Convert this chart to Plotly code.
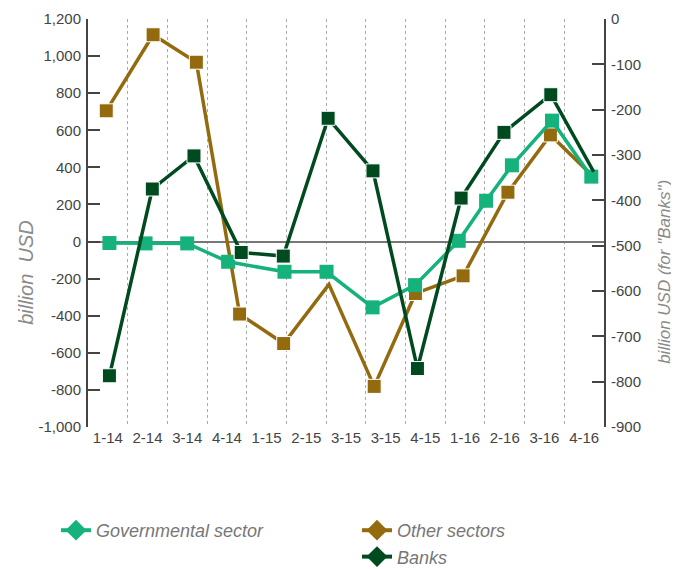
import plotly.graph_objects as go

# Category labels (as printed on the chart, including the repeated "3-15")
quarters = ["1-14", "2-14", "3-14", "4-14", "1-15", "2-15", "3-15",
            "3-15", "4-15", "1-16", "2-16", "3-16", "4-16"]

# Governmental sector (left axis, billion USD); positions in quarter-index units
gov_pos = [0.04, 0.95, 2.0, 3.03, 4.45, 5.51, 6.67, 7.74, 8.84, 9.53, 10.18, 11.19, 12.18]
gov_val = [-8, -10, -10, -109, -163, -163, -355, -235, 4, 220, 411, 652, 350]

# Other sectors (left axis)
other_pos = [-0.04, 1.14, 2.23, 3.32, 4.43, 5.57, 6.71, 7.75, 8.95, 10.08, 11.15, 12.18]
other_val = [705, 1115, 967, -391, -550, -231, -781, -280, -185, 266, 575, 360]
other_marked = [1, 1, 1, 1, 1, 0, 1, 1, 1, 1, 1, 0]

# Banks (right axis, billion USD)
banks_pos = [0.04, 1.12, 2.17, 3.36, 4.42, 5.55, 6.68, 7.80, 8.90, 9.98, 11.16, 12.24]
banks_val = [-787, -375, -302, -515, -523, -219, -335, -771, -395, -250, -167, -337]
banks_marked = [1, 1, 1, 1, 1, 1, 1, 1, 1, 1, 1, 0]

left_ticks = list(range(-1000, 1201, 200))
right_ticks = list(range(-900, 1, 100))

C_GOV = "#15b27b"
C_OTHER = "#936b0e"
C_BANKS = "#004a20"
FONT = "Liberation Sans Narrow, Arial Narrow, Liberation Sans, sans-serif"
MS = 14

fig = go.Figure()

fig.add_trace(go.Scatter(
    x=other_pos, y=other_val, mode="lines+markers", showlegend=False,
    line=dict(color=C_OTHER, width=3.5),
    marker=dict(symbol="square", color=C_OTHER, opacity=1,
                size=[MS * m for m in other_marked]),
))
fig.add_trace(go.Scatter(
    x=banks_pos, y=banks_val, yaxis="y2", mode="lines+markers", showlegend=False,
    line=dict(color=C_BANKS, width=3.5),
    marker=dict(symbol="square", color=C_BANKS, opacity=1,
                size=[MS * m for m in banks_marked]),
))
fig.add_trace(go.Scatter(
    x=gov_pos, y=gov_val, mode="lines+markers", showlegend=False,
    line=dict(color=C_GOV, width=3.5),
    marker=dict(symbol="square", color=C_GOV, size=MS, opacity=1),
))

# Legend entries (diamond symbols as in the original legend)
fig.add_trace(go.Scatter(x=[None], y=[None], mode="lines+markers", name="Governmental sector",
                         line=dict(color=C_GOV, width=4),
                         marker=dict(symbol="diamond", size=16, color=C_GOV), legend="legend"))
fig.add_trace(go.Scatter(x=[None], y=[None], mode="lines+markers", name="Other sectors",
                         line=dict(color=C_OTHER, width=4),
                         marker=dict(symbol="diamond", size=16, color=C_OTHER), legend="legend2"))
fig.add_trace(go.Scatter(x=[None], y=[None], mode="lines+markers", name="Banks",
                         line=dict(color=C_BANKS, width=4),
                         marker=dict(symbol="diamond", size=16, color=C_BANKS), legend="legend2"))

tick_font = dict(family=FONT, size=15, color="#444444")
legend_font = dict(family=FONT, size=18, color="#777777", style="italic")

fig.update_layout(
    width=679, height=569,
    margin=dict(l=79.5, r=83, t=11.3, b=150.3, autoexpand=False),
    paper_bgcolor="white", plot_bgcolor="white",
    font=dict(family=FONT),
    xaxis=dict(
        range=[-0.5, 12.5], tickmode="array",
        tickvals=list(range(len(quarters))), ticktext=quarters,
        showgrid=False, zeroline=False, showline=False, ticks="",
        tickfont=tick_font, automargin=False,
        minor=dict(tickmode="array", tickvals=[i + 0.5 for i in range(len(quarters) - 1)],
                   showgrid=True, gridcolor="#aaaaaa", griddash="dot", gridwidth=1, ticks=""),
    ),
    yaxis=dict(
        range=[-1000, 1200], tickmode="array", tickvals=left_ticks,
        ticktext=[f"{v:,}" for v in left_ticks],
        showgrid=False, zeroline=True, zerolinecolor="#777777", zerolinewidth=2,
        showline=True, linecolor="#444444", linewidth=2,
        ticks="inside", ticklen=12, tickwidth=2, tickcolor="#444444",
        tickfont=tick_font, automargin=False, ticklabelstandoff=2,
    ),
    yaxis2=dict(
        range=[-900, 0], overlaying="y", side="right", tickmode="array",
        tickvals=right_ticks, ticktext=[str(v) for v in right_ticks],
        showgrid=False, zeroline=False,
        showline=True, linecolor="#444444", linewidth=2,
        ticks="inside", ticklen=12, tickwidth=2, tickcolor="#444444",
        tickfont=tick_font, automargin=False, ticklabelstandoff=2,
    ),
    legend=dict(xref="container", yref="container", x=0.0707, y=0.1142,
                xanchor="left", yanchor="top", font=legend_font,
                bgcolor="rgba(0,0,0,0)"),
    legend2=dict(xref="container", yref="container", x=0.514, y=0.1142,
                 xanchor="left", yanchor="top", font=legend_font,
                 tracegroupgap=0, bgcolor="rgba(0,0,0,0)"),
    annotations=[
        dict(text="billion  USD", xref="paper", yref="paper", x=-0.119, y=0.377,
             xanchor="center", yanchor="middle",
             showarrow=False, textangle=-90,
             font=dict(family=FONT, size=20, color="#8a8a8a", style="italic")),
        dict(text='billion USD (for "Banks")', xref="paper", yref="paper", x=1.118, y=0.38,
             xanchor="center", yanchor="middle",
             showarrow=False, textangle=-90,
             font=dict(family=FONT, size=17, color="#8a8a8a", style="italic")),
    ],
)

fig.write_html("out.html")
